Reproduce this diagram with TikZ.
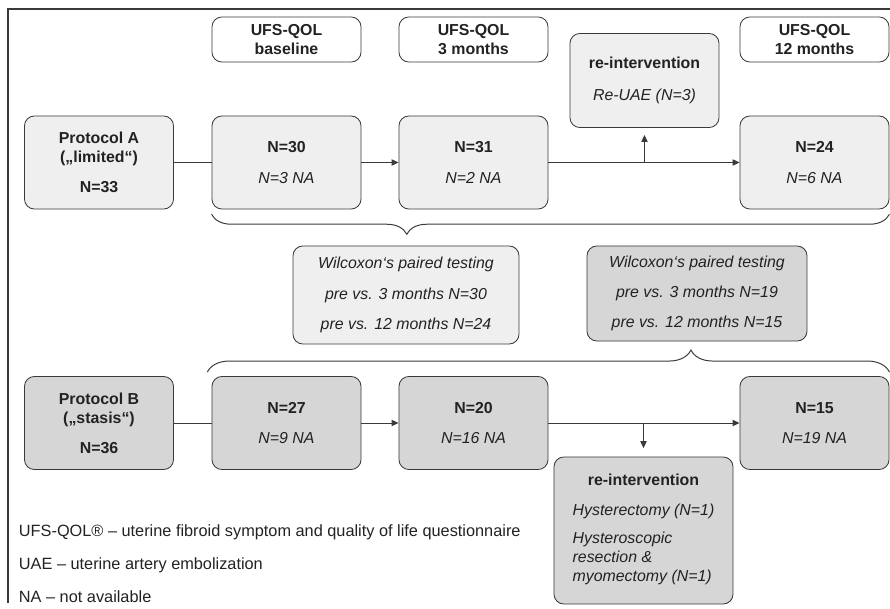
\documentclass[tikz,border=0pt]{standalone}
\usepackage{fontspec}
\setmainfont{Liberation Sans}
\usetikzlibrary{arrows.meta,decorations.pathreplacing}
\definecolor{linegray}{HTML}{3A3A3A}
\definecolor{fillA}{HTML}{EFEFF0}
\definecolor{fillB}{HTML}{D6D6D6}
\definecolor{txt}{HTML}{222222}
\tikzset{
  box/.style={draw=linegray, rounded corners=7pt, line width=0.6pt, align=center,
    text=txt, minimum width=3.725cm, minimum height=2.325cm, inner sep=2pt},
  boxa/.style={box, fill=fillA},
  boxb/.style={box, fill=fillB},
  head/.style={box, fill=white, minimum height=1.125cm},
  flow/.style={draw=linegray, line width=0.7pt},
  arr/.style={flow, -{Triangle[length=5pt,width=4.5pt]}},
  brc/.style={draw=linegray, line width=0.7pt, decorate}
}
\begin{document}
\begin{tikzpicture}[x=0.025cm,y=-0.025cm,font=\fontsize{11.3}{13.5}\selectfont]
\useasboundingbox (0,0) rectangle (890,609);
% frame (only top and left side visible)
\draw[linegray,line width=0.8pt] (890,9) -- (8,9) -- (8,603);

% time points
\node[head] (hbase) at (286.5,39.5) {\textbf{UFS-QOL}\\\textbf{baseline}};
\node[head] (hthree) at (473.5,39.5) {\textbf{UFS-QOL}\\\textbf{3 months}};
\node[head] (htwelve) at (814.5,39.5) {\textbf{UFS-QOL}\\\textbf{12 months}};

% protocol A
\node[boxa] (pa) at (99,162.5) {\textbf{Protocol A}\\\textbf{(„limited“)}\\[8pt]\textbf{N=33}};
\node[boxa] (athirty) at (286.5,162.5) {\textbf{N=30}\\[8pt]\textit{N=3 NA}};
\node[boxa] (athree) at (473.5,162.5) {\textbf{N=31}\\[8pt]\textit{N=2 NA}};
\node[boxa] (atwelve) at (814.5,162.5) {\textbf{N=24}\\[8pt]\textit{N=6 NA}};
\node[boxa, minimum height=2.35cm] (reinta) at (644.5,80.5) {\textbf{re-intervention}\\[9pt]\textit{Re-UAE (N=3)}};

\draw[flow] (pa) -- (athirty);
\draw[arr] (athirty) -- (athree);
\draw[arr] (athree) -- (atwelve);
\draw[arr, shorten >=5pt] (reinta.south |- athree.east) -- (reinta.south);

% Wilcoxon tests
\node[boxa, minimum width=5.65cm, minimum height=2.45cm] (wa) at (406,295)
  {\textit{Wilcoxon‘s paired testing}\\[8pt]\textit{pre vs. 3 months N=30}\\[8pt]\textit{pre vs. 12 months N=24}};
\node[boxb, minimum width=5.5cm, minimum height=2.375cm] (wb) at (697,293.5)
  {\textit{Wilcoxon‘s paired testing}\\[8pt]\textit{pre vs. 3 months N=19}\\[8pt]\textit{pre vs. 12 months N=15}};

% protocol B
\node[boxb] (pb) at (99,423) {\textbf{Protocol B}\\\textbf{(„stasis“)}\\[8pt]\textbf{N=36}};
\node[boxb] (bthirty) at (286.5,423) {\textbf{N=27}\\[8pt]\textit{N=9 NA}};
\node[boxb] (bthree) at (473.5,423) {\textbf{N=20}\\[8pt]\textit{N=16 NA}};
\node[boxb] (btwelve) at (814.5,423) {\textbf{N=15}\\[8pt]\textit{N=19 NA}};
\node[boxb, minimum width=4.475cm, minimum height=3.675cm] (reintb) at (643.5,530.5)
  {\textbf{re-intervention}\\[8pt]
   \begin{tabular}[t]{@{}l@{}}\textit{Hysterectomy (N=1)}\\[6pt]
   \textit{Hysteroscopic}\\\textit{resection \&}\\\textit{myomectomy (N=1)}\end{tabular}};

\draw[flow] (pb) -- (bthirty);
\draw[arr] (bthirty) -- (bthree);
\draw[arr] (bthree) -- (btwelve);
\draw[arr, shorten >=6pt] (reintb.north |- bthree.east) -- (reintb.north);

% braces
\draw[brc, decoration={brace, mirror, amplitude=0.5cm, aspect=0.288}]
  ([yshift=-0.12cm]athirty.south west) -- ([yshift=-0.12cm]atwelve.south east);
\draw[brc, decoration={brace, amplitude=0.55cm, aspect=0.709}]
  ([xshift=-3pt,yshift=0.1cm]bthirty.north west) -- ([yshift=0.1cm]btwelve.north east);

% legend
\begin{scope}[font=\fontsize{11.6}{14}\selectfont]
\node[anchor=west, text=txt] (leg1) at (14,532) {UFS-QOL® – uterine fibroid symptom and quality of life questionnaire};
\node[anchor=west, text=txt] (leg2) at (14,565) {UAE – uterine artery embolization};
\node[anchor=west, text=txt] (leg3) at (14,597) {NA – not available};
\end{scope}
\end{tikzpicture}
\end{document}
